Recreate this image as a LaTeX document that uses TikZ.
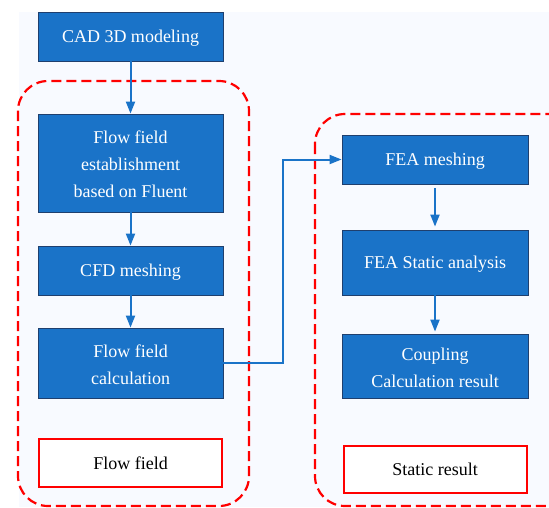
\documentclass[tikz,border=0pt]{standalone}
\usepackage{fontspec}
\setmainfont{Liberation Serif}
\usetikzlibrary{arrows.meta}
\definecolor{boxblue}{HTML}{1A73C8}
\definecolor{boxedge}{HTML}{1F3F6E}
\definecolor{bgpale}{HTML}{F8FAFF}
\newcommand{\lowlines}[1]{\raisebox{-2.5pt}[\height][\depth]{\begin{tabular}{@{}c@{}}#1\end{tabular}}}
\tikzset{
  bluebase/.style={draw=boxedge, line width=0.9pt, fill=boxblue, text=white, inner sep=0pt,
    font=\fontsize{18}{27}\selectfont},
  bluebox/.style={bluebase, align=center, text depth=-4pt},
  redbox/.style={draw=red, line width=2pt, fill=white, text=black, align=center, inner sep=0pt,
    text depth=-4pt, font=\fontsize{18}{27}\selectfont},
  groupbox/.style={draw=red, line width=2.2pt, dash pattern=on 10pt off 5pt, rounded corners=30pt},
  flowarrow/.style={draw=boxblue, line width=2pt, -{Triangle[length=12pt,width=9pt]}},
}
\begin{document}
\begin{tikzpicture}[x=1pt,y=-1pt]
\useasboundingbox (0,0) rectangle (549,507);
\fill[white] (0,0) rectangle (549,507);
\fill[bgpale] (19,12) rectangle (549,507);
% group outlines
\draw[groupbox] (18,81) rectangle (249,506);
\draw[groupbox] (315,114) rectangle (580,506);
% left column
\node[bluebox, minimum width=185pt, minimum height=49pt] (cad) at (130.5,36.5) {CAD 3D modeling};
\node[bluebase, minimum width=185pt, minimum height=98pt] (est) at (130.5,163) {\lowlines{Flow field\\establishment\\based on Fluent}};
\node[bluebox, minimum width=185pt, minimum height=49pt] (cfd) at (130.5,270.5) {CFD meshing};
\node[bluebase, minimum width=185pt, minimum height=70pt] (calc) at (130.5,363) {\lowlines{Flow field\\calculation}};
\node[redbox, minimum width=183pt, minimum height=48pt] (ff) at (130.5,463) {Flow field};
% right column
\node[bluebox, minimum width=186pt, minimum height=49pt] (feam) at (435,159.5) {FEA meshing};
\node[bluebox, minimum width=186pt, minimum height=65pt] (fesa) at (435,262.5) {FEA Static analysis};
\node[bluebase, minimum width=186pt, minimum height=64pt] (coup) at (435,366) {\lowlines{Coupling\\Calculation result}};
\node[redbox, minimum width=183pt, minimum height=47pt] (sr) at (435,469.5) {Static result};
% connectors
\draw[flowarrow] (cad.south) -- (est.north);
\draw[flowarrow] (est.south) -- (cfd.north);
\draw[flowarrow] (cfd.south) -- (calc.north);
\draw[flowarrow] ([yshift=-4pt]feam.south) -- ([yshift=3pt]fesa.north);
\draw[flowarrow] (fesa.south) -- ([yshift=2pt]coup.north);
\coordinate (bend) at (283,0);
\draw[flowarrow] (calc.east) -| (bend |- feam.west) -- (feam.west);
\end{tikzpicture}
\end{document}
